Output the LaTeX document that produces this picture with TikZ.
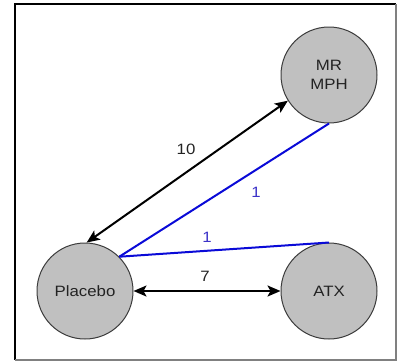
\documentclass[tikz,border=0pt]{standalone}
\usepackage{fontspec}
\setmainfont{Liberation Sans}[FakeStretch=1.12]
\usetikzlibrary{arrows.meta}
\definecolor{nodefill}{RGB}{192,192,192}
\definecolor{nodeedge}{RGB}{60,60,60}
\definecolor{linkblue}{RGB}{10,10,215}
\definecolor{labelblue}{RGB}{60,50,200}
\definecolor{textdark}{RGB}{35,35,35}
\begin{document}
\begin{tikzpicture}[x=1pt,y=-1pt,
  treat/.style={circle, draw=nodeedge, line width=1pt, fill=nodefill,
    minimum size=96pt, inner sep=0pt, text=textdark, align=center,
    font=\fontsize{15}{19.3}\selectfont},
  twoway/.style={draw=black, line width=2pt,
    {Stealth[length=13pt,width=11pt,inset=3pt]}-{Stealth[length=13pt,width=11pt,inset=3pt]}},
  oneway/.style={draw=linkblue, line width=2pt},
  count/.style={font=\fontsize{15}{18}\selectfont, text=textdark, inner sep=0pt},
  bluecount/.style={count, text=labelblue}]
\useasboundingbox (0,0) rectangle (398,362);
% frame
\draw[line width=2pt, black] (15,360) -- (15,4) -- (396,4);
\draw[line width=1.5pt, gray] (396,4) -- (396,360) -- (15,360);
% treatments
\node[treat] (mph) at (329,75) {MR\\MPH};
\node[treat] (pla) at (85,291) {Placebo};
\node[treat] (atx) at (329,291) {ATX};
% comparisons
\draw[twoway] (mph.212.7) -- (pla.88);
\draw[twoway] (pla.east) -- (atx.west);
\draw[oneway] (pla.45) -- (mph.270);
\draw[oneway] (pla.45) -- (atx.90);
% counts
\node[count] (n10) at (186,149) {10};
\node[count] (n7) at (205,276) {7};
\node[bluecount] (n1a) at (256,192) {1};
\node[bluecount] (n1b) at (207,237) {1};
\end{tikzpicture}
\end{document}
